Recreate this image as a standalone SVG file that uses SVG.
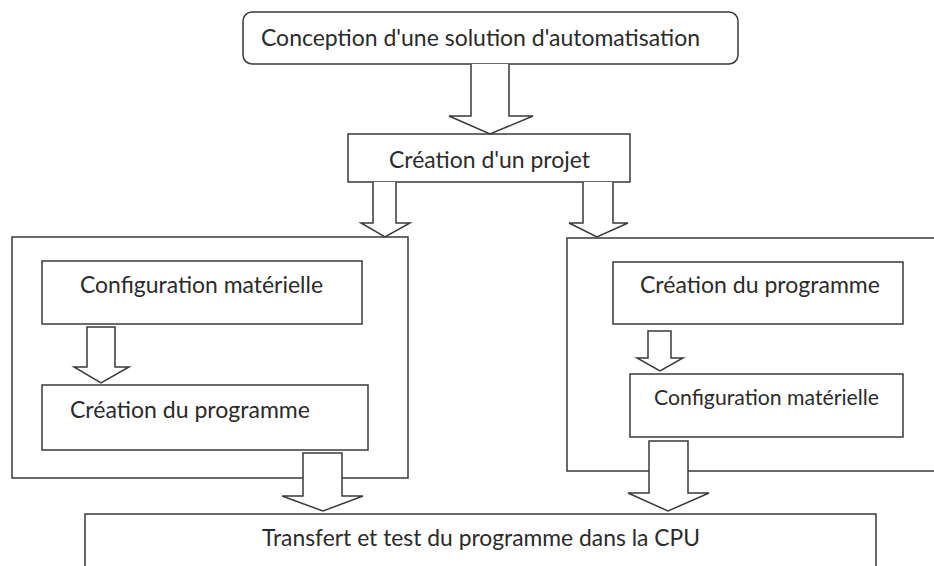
<svg xmlns="http://www.w3.org/2000/svg" width="934" height="566" viewBox="0 0 934 566">
<style>
.box{fill:#fff;stroke:#3a3a3a;stroke-width:1.5}
.arr{fill:#fff;stroke:#3a3a3a;stroke-width:1.5;stroke-linejoin:miter}
.t{font-family:Lato,"Open Sans","Liberation Sans",sans-serif;font-size:23px;fill:#2b2b2b}
</style>
<rect width="934" height="566" fill="#fff"/>
<g id="n-conception">
<rect class="box" x="243" y="12" width="495" height="52" rx="9"/>
<text class="t" x="261" y="46" textLength="439" lengthAdjust="spacingAndGlyphs">Conception d'une solution d'automatisation</text>
</g>
<g id="n-projet">
<rect class="box" x="348" y="134" width="282" height="48"/>
<text class="t" x="389" y="168" textLength="201" lengthAdjust="spacingAndGlyphs">Création d'un projet</text>
</g>
<g id="n-left">
<rect class="box" x="12" y="237" width="396" height="241"/>
</g>
<g id="n-right">
<rect class="box" x="567" y="238" width="380" height="233"/>
</g>
<g id="n-left-config">
<rect class="box" x="42" y="261" width="320" height="63"/>
<text class="t" x="80" y="293" textLength="243" lengthAdjust="spacingAndGlyphs">Configuration matérielle</text>
</g>
<g id="n-left-prog">
<rect class="box" x="42" y="385" width="326" height="65"/>
<text class="t" x="70" y="418" textLength="240" lengthAdjust="spacingAndGlyphs">Création du programme</text>
</g>
<g id="n-right-prog">
<rect class="box" x="613" y="262" width="290" height="62"/>
<text class="t" x="640" y="293" textLength="240" lengthAdjust="spacingAndGlyphs">Création du programme</text>
</g>
<g id="n-right-config">
<rect class="box" x="630" y="374" width="273" height="63"/>
<text class="t" x="654" y="405" style="font-size:21.5px" textLength="225" lengthAdjust="spacingAndGlyphs">Configuration matérielle</text>
</g>
<g id="n-transfert">
<rect class="box" x="85" y="514" width="791" height="80"/>
<text class="t" x="262" y="546" textLength="438" lengthAdjust="spacingAndGlyphs">Transfert et test du programme dans la CPU</text>
</g>
<g id="connectors">
<path class="arr" d="M471,64 V116 H449 L490,134 L533,116 H509 V64"/>
<path class="arr" d="M373,182 V223 H361 L385,237 L410,223 H396 V182"/>
<path class="arr" d="M583,182 V223 H569 L597,237 L628,223 H613 V182"/>
<path class="arr" d="M87,327 V367 H74 L101,383 L129,367 H115 V327 Z"/>
<path class="arr" d="M648,331 V358 H637 L660,371 L683,358 H671 V331 Z"/>
<path class="arr" d="M303,453 V496 H282 L323,511 L363,496 H342 V453 Z"/>
<path class="arr" d="M649,441 V493 H628 L668,511 L709,493 H688 V441 Z"/>
</g>
</svg>
